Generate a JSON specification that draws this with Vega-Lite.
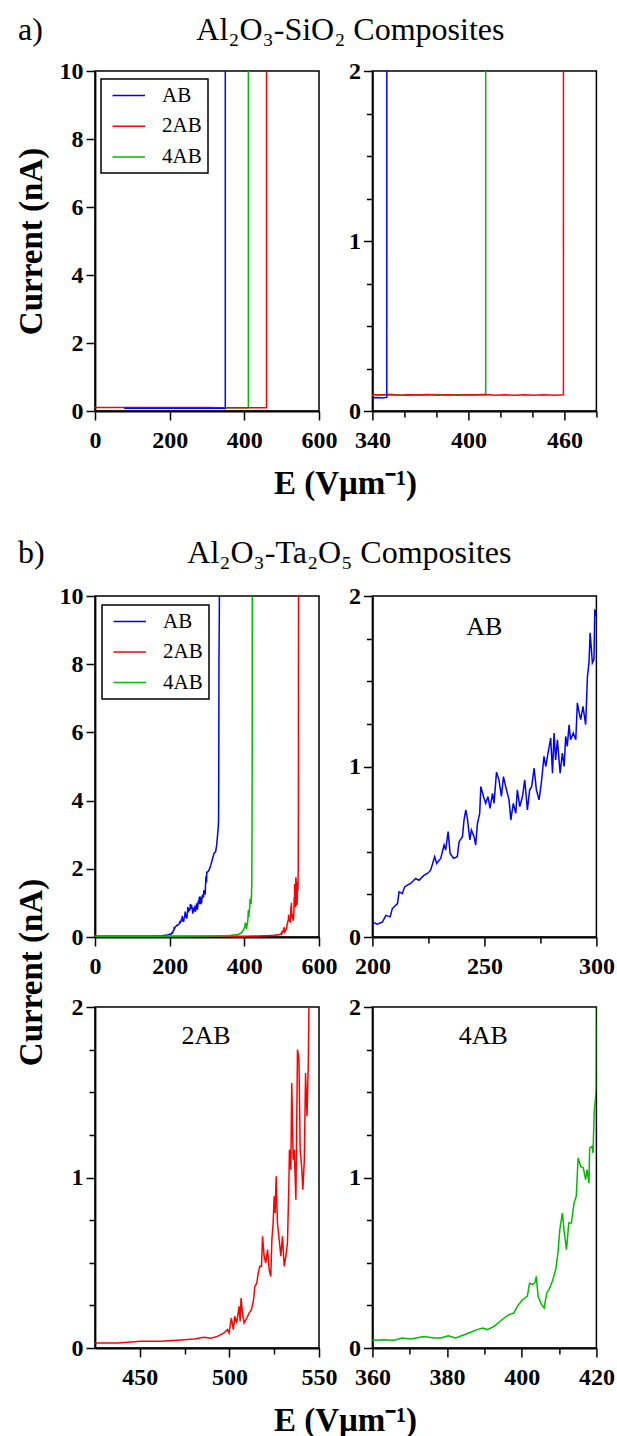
{
  "$schema": "https://vega.github.io/schema/vega-lite/v6.json",
  "background": "white",
  "padding": {"left": 14, "top": 13, "right": 4, "bottom": 0},
  "datasets": {
    "sio2": [
      {"s":"4AB","E":100,"I":0.095},{"s":"4AB","E":200,"I":0.095},{"s":"4AB","E":300,"I":0.095},{"s":"4AB","E":345,"I":0.095},{"s":"4AB","E":352,"I":0.097},{"s":"4AB","E":358,"I":0.093},{"s":"4AB","E":365,"I":0.096},{"s":"4AB","E":372,"I":0.094},{"s":"4AB","E":380,"I":0.097},{"s":"4AB","E":388,"I":0.094},{"s":"4AB","E":395,"I":0.096},{"s":"4AB","E":402,"I":0.095},{"s":"4AB","E":408,"I":0.097},{"s":"4AB","E":410.8,"I":0.096},{"s":"4AB","E":410.81,"I":12},
      {"s":"2AB","E":0,"I":0.1},{"s":"2AB","E":100,"I":0.1},{"s":"2AB","E":200,"I":0.1},{"s":"2AB","E":300,"I":0.1},{"s":"2AB","E":341,"I":0.095},{"s":"2AB","E":346,"I":0.094},{"s":"2AB","E":351,"I":0.097},{"s":"2AB","E":357,"I":0.093},{"s":"2AB","E":363,"I":0.096},{"s":"2AB","E":369,"I":0.094},{"s":"2AB","E":375,"I":0.097},{"s":"2AB","E":381,"I":0.093},{"s":"2AB","E":387,"I":0.095},{"s":"2AB","E":393,"I":0.092},{"s":"2AB","E":399,"I":0.096},{"s":"2AB","E":405,"I":0.094},{"s":"2AB","E":411,"I":0.097},{"s":"2AB","E":417,"I":0.093},{"s":"2AB","E":423,"I":0.095},{"s":"2AB","E":429,"I":0.092},{"s":"2AB","E":435,"I":0.096},{"s":"2AB","E":441,"I":0.093},{"s":"2AB","E":447,"I":0.095},{"s":"2AB","E":453,"I":0.092},{"s":"2AB","E":459.4,"I":0.095},{"s":"2AB","E":459.41,"I":12},
      {"s":"AB","E":78,"I":0.08},{"s":"AB","E":150,"I":0.08},{"s":"AB","E":250,"I":0.08},{"s":"AB","E":340,"I":0.078},{"s":"AB","E":343,"I":0.08},{"s":"AB","E":346,"I":0.077},{"s":"AB","E":349,"I":0.08},{"s":"AB","E":349.01,"I":12}
    ],
    "ta": [
      {"s":"AB","E":0,"I":0.02},{"s":"AB","E":100,"I":0.02},{"s":"AB","E":150,"I":0.025},{"s":"AB","E":180,"I":0.04},{"s":"AB","E":192,"I":0.06},{"s":"AB","E":197,"I":0.07},
      {"s":"AB","E":200,"I":0.088},{"s":"AB","E":202.2,"I":0.075},{"s":"AB","E":204.5,"I":0.088},{"s":"AB","E":206,"I":0.127},{"s":"AB","E":207.9,"I":0.118},{"s":"AB","E":208.9,"I":0.167},{"s":"AB","E":211.2,"I":0.196},{"s":"AB","E":211.9,"I":0.265},{"s":"AB","E":213.4,"I":0.255},{"s":"AB","E":214.4,"I":0.294},{"s":"AB","E":215.6,"I":0.304},{"s":"AB","E":217.1,"I":0.314},{"s":"AB","E":219.3,"I":0.343},{"s":"AB","E":220.8,"I":0.333},{"s":"AB","E":223.1,"I":0.363},{"s":"AB","E":224.6,"I":0.373},{"s":"AB","E":226,"I":0.392},{"s":"AB","E":227.8,"I":0.471},{"s":"AB","E":228.7,"I":0.431},{"s":"AB","E":230.5,"I":0.461},{"s":"AB","E":232,"I":0.539},{"s":"AB","E":232.7,"I":0.51},{"s":"AB","E":233.8,"I":0.618},{"s":"AB","E":234.7,"I":0.49},{"s":"AB","E":236.2,"I":0.461},{"s":"AB","E":237.9,"I":0.471},{"s":"AB","E":238.7,"I":0.559},{"s":"AB","E":240.2,"I":0.588},{"s":"AB","E":240.9,"I":0.686},{"s":"AB","E":241.7,"I":0.745},{"s":"AB","E":242.4,"I":0.696},{"s":"AB","E":243.5,"I":0.569},{"s":"AB","E":244.2,"I":0.627},{"s":"AB","E":245.4,"I":0.588},{"s":"AB","E":246.1,"I":0.539},{"s":"AB","E":246.9,"I":0.667},{"s":"AB","E":247.9,"I":0.725},{"s":"AB","E":248.4,"I":0.882},{"s":"AB","E":249.6,"I":0.824},{"s":"AB","E":250.6,"I":0.784},{"s":"AB","E":251.6,"I":0.824},{"s":"AB","E":252.5,"I":0.755},{"s":"AB","E":253.6,"I":0.843},{"s":"AB","E":254.3,"I":0.784},{"s":"AB","E":255.4,"I":0.967},{"s":"AB","E":256.5,"I":0.922},{"s":"AB","E":257.6,"I":0.824},{"s":"AB","E":258.5,"I":0.941},{"s":"AB","E":259.5,"I":0.882},{"s":"AB","E":261,"I":0.804},{"s":"AB","E":261.8,"I":0.686},{"s":"AB","E":262.9,"I":0.784},{"s":"AB","E":264,"I":0.725},{"s":"AB","E":264.7,"I":0.863},{"s":"AB","E":265.8,"I":0.765},{"s":"AB","E":267,"I":0.824},{"s":"AB","E":268,"I":0.922},{"s":"AB","E":269.2,"I":0.745},{"s":"AB","E":270.2,"I":0.863},{"s":"AB","E":271.1,"I":0.882},{"s":"AB","E":272.2,"I":0.99},{"s":"AB","E":273.2,"I":0.863},{"s":"AB","E":274.4,"I":0.804},{"s":"AB","E":275.4,"I":0.902},{"s":"AB","E":276.6,"I":1.059},{"s":"AB","E":277.4,"I":1.0},{"s":"AB","E":278.4,"I":1.078},{"s":"AB","E":279.6,"I":1.167},{"s":"AB","E":280.4,"I":0.961},{"s":"AB","E":281.1,"I":1.196},{"s":"AB","E":281.8,"I":1.039},{"s":"AB","E":282.6,"I":1.157},{"s":"AB","E":283.8,"I":0.961},{"s":"AB","E":284.8,"I":1.078},{"s":"AB","E":285.6,"I":1.0},{"s":"AB","E":286.3,"I":1.176},{"s":"AB","E":287,"I":1.118},{"s":"AB","E":287.8,"I":1.245},{"s":"AB","E":288.5,"I":1.157},{"s":"AB","E":289.7,"I":1.196},{"s":"AB","E":290.8,"I":1.157},{"s":"AB","E":291.5,"I":1.373},{"s":"AB","E":292.3,"I":1.314},{"s":"AB","E":293,"I":1.275},{"s":"AB","E":294,"I":1.353},{"s":"AB","E":295.2,"I":1.245},{"s":"AB","E":296,"I":1.529},{"s":"AB","E":296.7,"I":1.608},{"s":"AB","E":297.2,"I":1.784},{"s":"AB","E":298.2,"I":1.608},{"s":"AB","E":298.9,"I":1.627},{"s":"AB","E":299.3,"I":1.922},{"s":"AB","E":300,"I":1.882},
      {"s":"AB","E":301,"I":1.9},{"s":"AB","E":305,"I":1.95},{"s":"AB","E":310,"I":2.1},{"s":"AB","E":315,"I":2.3},{"s":"AB","E":319,"I":2.46},{"s":"AB","E":323,"I":2.5},{"s":"AB","E":326,"I":2.7},{"s":"AB","E":328,"I":2.95},{"s":"AB","E":330,"I":3.2},{"s":"AB","E":331,"I":3.4},{"s":"AB","E":331.5,"I":5},{"s":"AB","E":332,"I":8},{"s":"AB","E":333,"I":9.5},{"s":"AB","E":334,"I":12},
      {"s":"2AB","E":0,"I":0.02},{"s":"2AB","E":100,"I":0.02},{"s":"2AB","E":200,"I":0.02},{"s":"2AB","E":300,"I":0.02},{"s":"2AB","E":400,"I":0.025},{"s":"2AB","E":425,"I":0.029},{"s":"2AB","E":437.5,"I":0.029},{"s":"2AB","E":450.6,"I":0.039},{"s":"2AB","E":461.7,"I":0.039},{"s":"2AB","E":471,"I":0.045},{"s":"2AB","E":480.3,"I":0.053},{"s":"2AB","E":485.9,"I":0.063},{"s":"2AB","E":489.6,"I":0.057},{"s":"2AB","E":493.3,"I":0.068},{"s":"2AB","E":497,"I":0.088},{"s":"2AB","E":498.9,"I":0.108},{"s":"2AB","E":499.8,"I":0.088},{"s":"2AB","E":501.1,"I":0.176},{"s":"2AB","E":502.2,"I":0.108},{"s":"2AB","E":503,"I":0.186},{"s":"2AB","E":504.1,"I":0.147},{"s":"2AB","E":505.4,"I":0.244},{"s":"2AB","E":506,"I":0.156},{"s":"2AB","E":506.5,"I":0.293},{"s":"2AB","E":507.3,"I":0.205},{"s":"2AB","E":508.2,"I":0.147},{"s":"2AB","E":509.7,"I":0.176},{"s":"2AB","E":511,"I":0.205},{"s":"2AB","E":512.3,"I":0.225},{"s":"2AB","E":513.5,"I":0.283},{"s":"2AB","E":514.2,"I":0.362},{"s":"2AB","E":515.3,"I":0.381},{"s":"2AB","E":516.1,"I":0.44},{"s":"2AB","E":517,"I":0.479},{"s":"2AB","E":517.9,"I":0.479},{"s":"2AB","E":518.5,"I":0.655},{"s":"2AB","E":519.4,"I":0.538},{"s":"2AB","E":520.3,"I":0.499},{"s":"2AB","E":521.3,"I":0.577},{"s":"2AB","E":522.2,"I":0.459},{"s":"2AB","E":523.1,"I":0.42},{"s":"2AB","E":523.7,"I":0.635},{"s":"2AB","E":524.4,"I":0.733},{"s":"2AB","E":525,"I":0.89},{"s":"2AB","E":525.5,"I":0.792},{"s":"2AB","E":526.1,"I":1.007},{"s":"2AB","E":526.8,"I":0.733},{"s":"2AB","E":527.8,"I":0.635},{"s":"2AB","E":528.7,"I":0.538},{"s":"2AB","E":529.6,"I":0.655},{"s":"2AB","E":530.6,"I":0.479},{"s":"2AB","E":531.5,"I":0.538},{"s":"2AB","E":532.4,"I":0.616},{"s":"2AB","E":533.2,"I":0.968},{"s":"2AB","E":533.5,"I":1.163},{"s":"2AB","E":534.3,"I":1.046},{"s":"2AB","E":534.8,"I":1.554},{"s":"2AB","E":535.6,"I":1.104},{"s":"2AB","E":536.2,"I":1.163},{"s":"2AB","E":537.1,"I":0.87},{"s":"2AB","E":538,"I":1.75},{"s":"2AB","E":538.8,"I":1.691},{"s":"2AB","E":539.5,"I":1.163},{"s":"2AB","E":540.3,"I":1.065},{"s":"2AB","E":541,"I":0.929},{"s":"2AB","E":541.8,"I":1.104},{"s":"2AB","E":542.5,"I":1.613},{"s":"2AB","E":543.3,"I":1.359},{"s":"2AB","E":544,"I":1.652},{"s":"2AB","E":544.4,"I":2.02},{"s":"2AB","E":544.8,"I":4},{"s":"2AB","E":545.2,"I":12},
      {"s":"4AB","E":0,"I":0.02},{"s":"4AB","E":100,"I":0.02},{"s":"4AB","E":200,"I":0.025},{"s":"4AB","E":300,"I":0.03},{"s":"4AB","E":340,"I":0.04},{"s":"4AB","E":360,"I":0.045},{"s":"4AB","E":363.1,"I":0.049},{"s":"4AB","E":365.8,"I":0.045},{"s":"4AB","E":368,"I":0.059},{"s":"4AB","E":370.3,"I":0.053},{"s":"4AB","E":373.8,"I":0.068},{"s":"4AB","E":376.5,"I":0.059},{"s":"4AB","E":378.3,"I":0.059},{"s":"4AB","E":380.3,"I":0.072},{"s":"4AB","E":382.3,"I":0.059},{"s":"4AB","E":384.6,"I":0.078},{"s":"4AB","E":386.3,"I":0.092},{"s":"4AB","E":388.1,"I":0.108},{"s":"4AB","E":389.5,"I":0.117},{"s":"4AB","E":390.8,"I":0.108},{"s":"4AB","E":392.6,"I":0.127},{"s":"4AB","E":393.9,"I":0.151},{"s":"4AB","E":395.3,"I":0.176},{"s":"4AB","E":396.6,"I":0.196},{"s":"4AB","E":397.9,"I":0.205},{"s":"4AB","E":398.8,"I":0.244},{"s":"4AB","E":400.2,"I":0.283},{"s":"4AB","E":401.5,"I":0.303},{"s":"4AB","E":402.1,"I":0.381},{"s":"4AB","E":402.9,"I":0.372},{"s":"4AB","E":403.5,"I":0.381},{"s":"4AB","E":403.9,"I":0.42},{"s":"4AB","E":404.4,"I":0.303},{"s":"4AB","E":405.3,"I":0.254},{"s":"4AB","E":406,"I":0.235},{"s":"4AB","E":406.7,"I":0.323},{"s":"4AB","E":407.3,"I":0.342},{"s":"4AB","E":408.2,"I":0.391},{"s":"4AB","E":409.1,"I":0.46},{"s":"4AB","E":409.7,"I":0.557},{"s":"4AB","E":410.2,"I":0.694},{"s":"4AB","E":410.9,"I":0.792},{"s":"4AB","E":411.3,"I":0.694},{"s":"4AB","E":412,"I":0.577},{"s":"4AB","E":412.6,"I":0.733},{"s":"4AB","E":413.3,"I":0.733},{"s":"4AB","E":414,"I":0.85},{"s":"4AB","E":414.6,"I":0.889},{"s":"4AB","E":415.1,"I":1.114},{"s":"4AB","E":415.8,"I":1.065},{"s":"4AB","E":416.5,"I":1.056},{"s":"4AB","E":417.1,"I":0.987},{"s":"4AB","E":417.5,"I":1.046},{"s":"4AB","E":418,"I":0.968},{"s":"4AB","E":418.2,"I":1.173},{"s":"4AB","E":418.8,"I":1.182},{"s":"4AB","E":419.1,"I":1.144},{"s":"4AB","E":419.4,"I":1.378},{"s":"4AB","E":420,"I":1.534},{"s":"4AB","E":420.1,"I":1.85},{"s":"4AB","E":420.5,"I":3},{"s":"4AB","E":421,"I":5},{"s":"4AB","E":421.5,"I":12}
    ],
    "lab": [
      {"p":"AB","E":250,"I":1.82,"t":"AB"},
      {"p":"2AB","E":487,"I":1.83,"t":"2AB"},
      {"p":"4AB","E":389.7,"I":1.83,"t":"4AB"}
    ]
  },
  "config": {
    "font": "Liberation Serif",
    "view": {"stroke": "black", "strokeWidth": 1.5},
    "axis": {"domainColor": "black", "domainWidth": 1.8, "tickColor": "black", "tickWidth": 1.5, "tickSize": 9, "labelFont": "Liberation Serif", "labelFontSize": 24, "labelFontWeight": "bold", "labelColor": "black", "titleFont": "Liberation Serif", "titleFontSize": 33, "titleFontWeight": "bold", "titleColor": "black", "grid": false, "labelFlush": false, "labelOverlap": false},
    "axisX": {"labelPadding": 8},
    "axisY": {"labelPadding": 3},
    "title": {"font": "Liberation Serif", "fontSize": 32, "fontWeight": "normal", "color": "black"},
    "legend": {"strokeWidth": 1.5}
  },
  "columns": 2,
  "spacing": {"row": 70, "column": 53.4},
  "bounds": "flush",
  "align": "each",
  "resolve": {"scale": {"color": "independent"}, "legend": {"color": "independent"}},
  "concat": [
    {
      "width": 224, "height": 340,
      "data": {"name": "sio2"},
      "title": {"text": "a)", "anchor": "start", "frame": "group", "dx": -77, "offset": -13, "baseline": "alphabetic"},
      "mark": {"type": "line", "clip": true, "strokeWidth": 1.5},
      "encoding": {
        "x": {"field": "E", "type": "quantitative", "scale": {"domain": [0, 600], "nice": false, "zero": false},
              "axis": {"values": [0, 200, 400, 600], "title": "E (Vμm⁻¹)", "titleX": 250, "titleY": 82, "titleBaseline": "alphabetic", "titleAlign": "center"}},
        "y": {"field": "I", "type": "quantitative", "scale": {"domain": [0, 10], "nice": false},
              "axis": {"values": [0, 2, 4, 6, 8, 10], "title": "Current (nA)", "titleX": -64, "titleY": 170, "titleAngle": 270, "titleBaseline": "middle", "titleAlign": "center"}},
        "color": {"field": "s", "type": "nominal", "scale": {"domain": ["AB", "2AB", "4AB"], "range": ["#0000ff", "#ff0000", "#00bb00"]},
                  "legend": {"orient": "none", "legendX": 6, "legendY": 8, "title": null, "direction": "vertical", "symbolType": "M-1,0H5.5", "symbolSize": 100, "symbolStrokeWidth": 1.5, "labelOffset": 34, "padding": 6, "rowPadding": 8.7, "strokeColor": "black", "labelFont": "Liberation Serif", "labelFontSize": 21, "labelFontWeight": "normal", "labelColor": "black"}}
      }
    },
    {
      "width": 224, "height": 340,
      "data": {"name": "sio2"},
      "title": {"text": "Al₂O₃-SiO₂ Composites", "anchor": "middle", "frame": "group", "dx": -134, "offset": -13, "baseline": "alphabetic"},
      "mark": {"type": "line", "clip": true, "strokeWidth": 1.5},
      "encoding": {
        "x": {"field": "E", "type": "quantitative", "scale": {"domain": [340, 480], "nice": false, "zero": false},
              "axis": {"values": [340, 360, 380, 400, 420, 440, 460, 480], "title": null, "labelExpr": "(datum.value - 340) % 60 === 0 ? format(datum.value, 'd') : ''", "tickSize": {"condition": {"test": "(datum.value - 340) % 60 === 0", "value": 9}, "value": 6}}},
        "y": {"field": "I", "type": "quantitative", "scale": {"domain": [0, 2], "nice": false},
              "axis": {"values": [0, 0.25, 0.5, 0.75, 1, 1.25, 1.5, 1.75, 2], "title": null, "labelExpr": "datum.value % 1 === 0 ? format(datum.value, 'd') : ''", "tickSize": {"condition": {"test": "datum.value % 1 === 0", "value": 9}, "value": 6}}},
        "color": {"field": "s", "type": "nominal", "scale": {"domain": ["AB", "2AB", "4AB"], "range": ["#0000ff", "#ff0000", "#00bb00"]}, "legend": null}
      }
    },
    {
      "width": 224, "height": 45,
      "data": {"values": [{"E": 0}]},
      "mark": {"type": "point", "opacity": 0},
      "view": {"stroke": null}
    },
    {
      "width": 224, "height": 45,
      "data": {"values": [{"E": 0}]},
      "mark": {"type": "point", "opacity": 0},
      "view": {"stroke": null}
    },
    {
      "width": 224, "height": 341,
      "data": {"name": "ta"},
      "title": {"text": "b)", "anchor": "start", "frame": "group", "dx": -77, "offset": -11, "baseline": "alphabetic"},
      "mark": {"type": "line", "clip": true, "strokeWidth": 1.5},
      "encoding": {
        "x": {"field": "E", "type": "quantitative", "scale": {"domain": [0, 600], "nice": false, "zero": false},
              "axis": {"values": [0, 200, 400, 600], "title": null}},
        "y": {"field": "I", "type": "quantitative", "scale": {"domain": [0, 10], "nice": false},
              "axis": {"values": [0, 2, 4, 6, 8, 10], "title": "Current (nA)", "titleX": -64, "titleY": 376, "titleAngle": 270, "titleBaseline": "middle", "titleAlign": "center"}},
        "color": {"field": "s", "type": "nominal", "scale": {"domain": ["AB", "2AB", "4AB"], "range": ["#0000ff", "#ff0000", "#00bb00"]},
                  "legend": {"orient": "none", "legendX": 7, "legendY": 9, "title": null, "direction": "vertical", "symbolType": "M-1,0H5.5", "symbolSize": 100, "symbolStrokeWidth": 1.5, "labelOffset": 34, "padding": 6, "rowPadding": 8.5, "strokeColor": "black", "labelFont": "Liberation Serif", "labelFontSize": 21, "labelFontWeight": "normal", "labelColor": "black"}}
      }
    },
    {
      "width": 224, "height": 341,
      "title": {"text": "Al₂O₃-Ta₂O₅ Composites", "anchor": "middle", "frame": "group", "dx": -135, "offset": -11, "baseline": "alphabetic"},
      "encoding": {
        "x": {"field": "E", "type": "quantitative", "scale": {"domain": [200, 300], "nice": false, "zero": false},
              "axis": {"values": [200, 225, 250, 275, 300], "title": null, "labelExpr": "datum.value % 50 === 0 ? format(datum.value, 'd') : ''", "tickSize": {"condition": {"test": "datum.value % 50 === 0", "value": 9}, "value": 6}}},
        "y": {"field": "I", "type": "quantitative", "scale": {"domain": [0, 2], "nice": false},
              "axis": {"values": [0, 0.25, 0.5, 0.75, 1, 1.25, 1.5, 1.75, 2], "title": null, "labelExpr": "datum.value % 1 === 0 ? format(datum.value, 'd') : ''", "tickSize": {"condition": {"test": "datum.value % 1 === 0", "value": 9}, "value": 6}}}
      },
      "layer": [
        {
          "data": {"name": "ta"},
          "transform": [{"filter": "datum.s === 'AB'"}],
          "mark": {"type": "line", "clip": true, "strokeWidth": 1.5, "color": "#0000ff"}
        },
        {
          "data": {"name": "lab"},
          "transform": [{"filter": "datum.p === 'AB'"}],
          "mark": {"type": "text", "clip": true, "font": "Liberation Serif", "fontSize": 26, "baseline": "middle", "align": "center", "color": "black"},
          "encoding": {"text": {"field": "t"}}
        }
      ]
    },
    {
      "width": 224, "height": 341,
      "encoding": {
        "x": {"field": "E", "type": "quantitative", "scale": {"domain": [425, 550], "nice": false, "zero": false},
              "axis": {"values": [450, 475, 500, 525, 550], "title": "E (Vμm⁻¹)", "titleX": 250, "titleY": 82, "titleBaseline": "alphabetic", "titleAlign": "center", "labelExpr": "datum.value % 50 === 0 ? format(datum.value, 'd') : ''", "tickSize": {"condition": {"test": "datum.value % 50 === 0", "value": 9}, "value": 6}}},
        "y": {"field": "I", "type": "quantitative", "scale": {"domain": [0, 2], "nice": false},
              "axis": {"values": [0, 0.25, 0.5, 0.75, 1, 1.25, 1.5, 1.75, 2], "title": null, "labelExpr": "datum.value % 1 === 0 ? format(datum.value, 'd') : ''", "tickSize": {"condition": {"test": "datum.value % 1 === 0", "value": 9}, "value": 6}}}
      },
      "layer": [
        {
          "data": {"name": "ta"},
          "transform": [{"filter": "datum.s === '2AB'"}],
          "mark": {"type": "line", "clip": true, "strokeWidth": 1.5, "color": "#ff0000"}
        },
        {
          "data": {"name": "lab"},
          "transform": [{"filter": "datum.p === '2AB'"}],
          "mark": {"type": "text", "clip": true, "font": "Liberation Serif", "fontSize": 26, "baseline": "middle", "align": "center", "color": "black"},
          "encoding": {"text": {"field": "t"}}
        }
      ]
    },
    {
      "width": 224, "height": 341,
      "encoding": {
        "x": {"field": "E", "type": "quantitative", "scale": {"domain": [360, 420], "nice": false, "zero": false},
              "axis": {"values": [360, 370, 380, 390, 400, 410, 420], "title": null, "labelExpr": "datum.value % 20 === 0 ? format(datum.value, 'd') : ''", "tickSize": {"condition": {"test": "datum.value % 20 === 0", "value": 9}, "value": 6}}},
        "y": {"field": "I", "type": "quantitative", "scale": {"domain": [0, 2], "nice": false},
              "axis": {"values": [0, 0.25, 0.5, 0.75, 1, 1.25, 1.5, 1.75, 2], "title": null, "labelExpr": "datum.value % 1 === 0 ? format(datum.value, 'd') : ''", "tickSize": {"condition": {"test": "datum.value % 1 === 0", "value": 9}, "value": 6}}}
      },
      "layer": [
        {
          "data": {"name": "ta"},
          "transform": [{"filter": "datum.s === '4AB'"}],
          "mark": {"type": "line", "clip": true, "strokeWidth": 1.5, "color": "#00bb00"}
        },
        {
          "data": {"name": "lab"},
          "transform": [{"filter": "datum.p === '4AB'"}],
          "mark": {"type": "text", "clip": true, "font": "Liberation Serif", "fontSize": 26, "baseline": "middle", "align": "center", "color": "black"},
          "encoding": {"text": {"field": "t"}}
        }
      ]
    }
  ]
}
